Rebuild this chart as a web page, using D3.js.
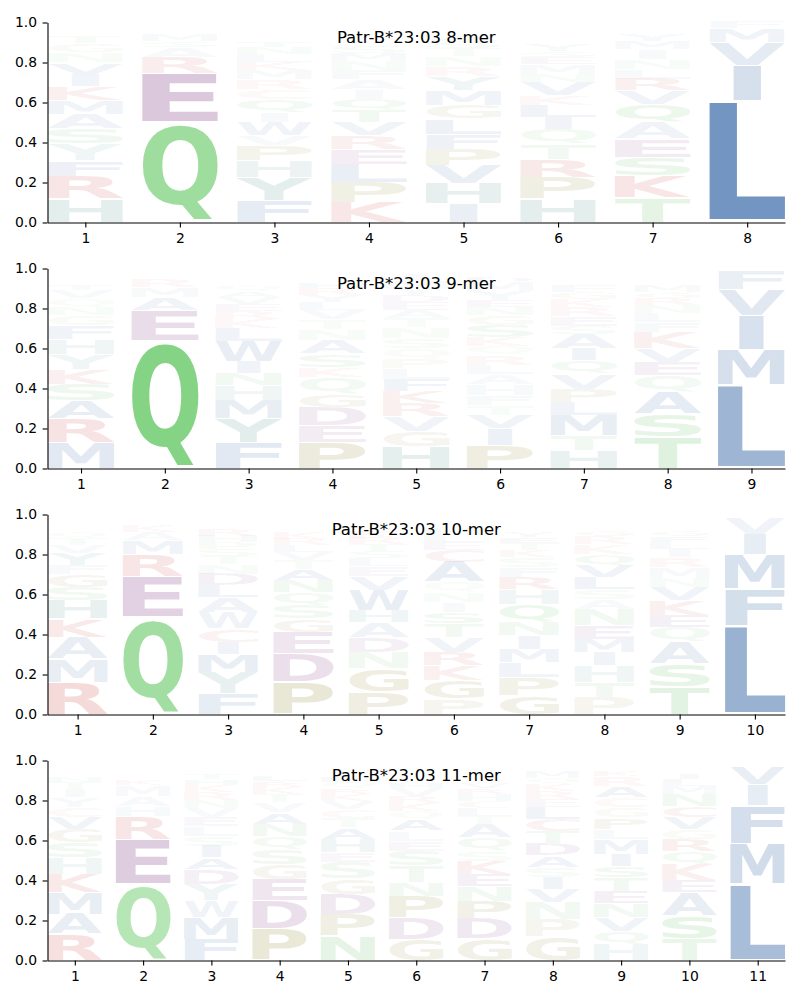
<!DOCTYPE html>
<html><head><meta charset="utf-8">
<script src="https://cdn.jsdelivr.net/npm/d3@7"></script>
<style>body{margin:0;background:#fff}</style>
</head><body>
<svg id="chart" width="800" height="1000"></svg>
<script>
// ---- DATA: each column lists [residue, frequency] from bottom to top ----
const titles = ["Patr-B*23:03 8-mer","Patr-B*23:03 9-mer","Patr-B*23:03 10-mer","Patr-B*23:03 11-mer"];
const yTicks = [0,0.2,0.4,0.6,0.8,1.0];

const mer8 = [
 [["H",.118],["R",.114],["F",.078],["Y",.083],["S",.075],["A",.075],["M",.07],["K",.067],["I",.063],["V",.057],["N",.05],["G",.045],["T",.035],["Q",.025],["W",.02],["P",.015],["E",.01]],
 [["Q",.5],["E",.245],["R",.08],["A",.05],["S",.03],["M",.035],["K",.025],["T",.02],["L",.015]],
 [["F",.11],["Y",.117],["H",.083],["P",.075],["V",.05],["W",.065],["I",.05],["Q",.065],["C",.05],["R",.05],["M",.045],["K",.04],["L",.04],["N",.035],["T",.03],["E",.025],["G",.02],["S",.02],["A",.02],["D",.01]],
 [["K",.1],["P",.1],["L",.093],["E",.075],["R",.067],["V",.065],["T",.06],["Q",.058],["I",.05],["A",.05],["F",.045],["N",.045],["M",.04],["S",.035],["H",.025],["G",.025],["Y",.02],["C",.022],["D",.015],["W",.01]],
 [["I",.093],["H",.1],["V",.092],["P",.083],["F",.075],["L",.075],["G",.067],["M",.075],["Y",.07],["R",.05],["N",.05],["T",.04],["S",.035],["A",.03],["E",.025],["K",.02],["Q",.015],["D",.005]],
 [["H",.118],["P",.109],["R",.091],["T",.075],["Q",.075],["I",.059],["L",.058],["K",.05],["V",.065],["N",.04],["M",.05],["E",.035],["S",.03],["Y",.03],["A",.025],["W",.025],["F",.02],["C",.02],["G",.015],["D",.01]],
 [["T",.127],["K",.108],["S",.092],["E",.091],["A",.084],["Q",.091],["V",.067],["R",.058],["L",.05],["N",.05],["I",.05],["M",.04],["Y",.035],["F",.025],["G",.02],["H",.01],["D",.005],["P",.005]],
 [["L",.61],["I",.175],["V",.115],["M",.07],["F",.03]]
];

const mer9 = [
 [["M",.127],["R",.121],["A",.092],["S",.083],["K",.075],["Y",.075],["H",.075],["F",.067],["G",.05],["N",.04],["Q",.045],["V",.04],["T",.03],["L",.025],["I",.02],["P",.015],["E",.01],["D",.005],["W",.005]],
 [["Q",.64],["E",.15],["A",.065],["M",.05],["R",.04],["K",.02],["S",.015],["T",.01],["L",.01]],
 [["F",.127],["Y",.121],["M",.092],["H",.075],["N",.06],["I",.06],["W",.1],["L",.065],["K",.045],["R",.04],["E",.035],["V",.035],["A",.03],["Q",.03],["S",.025],["T",.02],["P",.015],["G",.01],["D",.01],["C",.005]],
 [["P",.132],["E",.083],["D",.092],["G",.066],["Q",.084],["K",.05],["S",.066],["A",.067],["N",.055],["T",.05],["V",.045],["L",.04],["Y",.035],["R",.035],["H",.03],["I",.025],["F",.02],["M",.015],["W",.01]],
 [["H",.11],["G",.075],["V",.075],["R",.065],["K",.06],["F",.06],["L",.055],["P",.05],["Q",.05],["S",.05],["N",.055],["T",.045],["A",.04],["E",.04],["D",.035],["Y",.035],["M",.035],["I",.03],["W",.025],["C",.01]],
 [["P",.117],["I",.083],["V",.067],["T",.05],["F",.05],["H",.055],["A",.05],["L",.045],["R",.05],["Q",.045],["K",.045],["S",.06],["G",.05],["N",.04],["E",.035],["Y",.045],["M",.045],["D",.028],["W",.025],["C",.015]],
 [["H",.09],["T",.075],["M",.1],["L",.067],["P",.066],["V",.075],["Q",.067],["I",.058],["A",.075],["S",.04],["E",.05],["R",.045],["K",.04],["G",.035],["F",.03],["Y",.025],["N",.025],["D",.02],["W",.01],["C",.005]],
 [["T",.157],["S",.116],["A",.109],["Q",.083],["E",.067],["V",.066],["K",.084],["F",.05],["L",.045],["N",.04],["R",.035],["G",.03],["M",.03],["I",.025],["D",.02],["H",.015],["P",.015],["Y",.01]],
 [["L",.42],["M",.175],["I",.17],["V",.13],["F",.095],["W",.01]]
];

const mer10 = [
 [["R",.162],["M",.116],["A",.109],["K",.091],["H",.092],["S",.067],["G",.066],["F",.045],["Y",.06],["V",.04],["T",.035],["Q",.03],["N",.025],["L",.02],["I",.015],["P",.01],["E",.01],["D",.005]],
 [["Q",.485],["E",.205],["R",.11],["M",.07],["A",.04],["K",.03],["S",.02],["T",.015],["L",.015],["N",.01]],
 [["F",.103],["Y",.109],["M",.091],["I",.059],["C",.066],["W",.084],["A",.075],["L",.058],["D",.058],["N",.05],["T",.04],["S",.035],["P",.035],["H",.03],["R",.035],["K",.025],["V",.02],["E",.015],["G",.01]],
 [["P",.162],["D",.141],["E",.109],["G",.066],["S",.067],["Q",.067],["N",.058],["A",.058],["T",.045],["V",.04],["L",.035],["R",.03],["K",.03],["I",.025],["F",.02],["H",.015],["Y",.015],["M",.01],["W",.005]],
 [["P",.112],["G",.116],["N",.084],["D",.075],["A",.075],["H",.058],["W",.1],["V",.07],["E",.05],["L",.04],["S",.035],["T",.035],["R",.03],["K",.03],["Q",.025],["F",.02],["I",.015],["M",.01],["Y",.01],["C",.005]],
 [["P",.078],["G",.092],["K",.075],["R",.067],["V",.075],["T",.066],["S",.059],["I",.05],["N",.05],["Q",.05],["A",.1],["C",.06],["E",.04],["L",.035],["H",.03],["M",.025],["D",.02],["F",.015],["Y",.01]],
 [["G",.095],["P",.092],["L",.075],["M",.066],["I",.067],["N",.067],["Q",.091],["H",.075],["R",.059],["F",.05],["S",.05],["K",.035],["T",.035],["E",.03],["Y",.03],["V",.025],["A",.02],["D",.02],["W",.01],["C",.005]],
 [["P",.087],["T",.075],["H",.083],["I",.067],["M",.066],["E",.067],["N",.083],["A",.05],["S",.05],["L",.058],["V",.058],["Q",.058],["K",.05],["R",.04],["G",.03],["F",.025],["D",.02],["Y",.02],["C",.01]],
 [["T",.137],["S",.116],["A",.109],["Q",.075],["E",.058],["K",.075],["V",.067],["N",.045],["M",.055],["R",.05],["I",.04],["L",.035],["F",.03],["G",.03],["D",.025],["H",.02],["Y",.015],["P",.01],["W",.005]],
 [["L",.445],["F",.185],["M",.17],["I",.1],["V",.08],["Y",.02]]
];

const mer11 = [
 [["R",.132],["A",.1],["M",.108],["K",.092],["H",.083],["S",.075],["G",.067],["V",.058],["C",.05],["Y",.05],["I",.04],["T",.035],["N",.03],["L",.025],["F",.02],["Q",.015],["P",.01],["E",.01]],
 [["Q",.38],["E",.225],["R",.115],["H",.05],["A",.05],["M",.055],["K",.03],["S",.025],["T",.02],["L",.02],["N",.015],["V",.01],["D",.005]],
 [["F",.107],["M",.108],["W",.083],["Y",.084],["D",.075],["A",.058],["I",.058],["S",.05],["L",.05],["E",.045],["V",.045],["N",.04],["R",.04],["K",.035],["H",.03],["T",.03],["G",.025],["Q",.02],["P",.015]],
 [["P",.157],["D",.141],["E",.109],["G",.075],["S",.075],["Q",.066],["N",.059],["A",.058],["V",.05],["T",.04],["K",.035],["R",.03],["L",.03],["I",.025],["H",.02],["F",.015],["Y",.01],["M",.005]],
 [["N",.123],["P",.109],["D",.1],["G",.075],["S",.083],["E",.05],["H",.067],["A",.058],["T",.045],["C",.045],["V",.04],["K",.035],["R",.03],["Q",.03],["L",.03],["I",.025],["F",.02],["Y",.015],["M",.01],["W",.005]],
 [["G",.107],["D",.108],["P",.108],["N",.067],["T",.083],["S",.075],["E",.05],["L",.05],["A",.058],["Q",.04],["K",.04],["R",.035],["V",.04],["H",.03],["I",.025],["F",.02],["Y",.02],["M",.015],["C",.01],["W",.01]],
 [["G",.108],["D",.1],["P",.09],["N",.075],["E",.06],["K",.065],["S",.05],["Q",.066],["A",.067],["T",.04],["L",.04],["C",.035],["H",.035],["R",.03],["V",.03],["I",.025],["F",.02],["Y",.02],["M",.015],["W",.01]],
 [["G",.117],["P",.088],["N",.085],["V",.067],["I",.06],["S",.05],["A",.058],["D",.06],["T",.06],["C",.06],["L",.06],["E",.04],["R",.04],["K",.035],["Q",.03],["M",.03],["H",.02],["F",.015],["W",.02],["Y",.005]],
 [["H",.078],["Q",.07],["V",.07],["N",.07],["E",.06],["T",.066],["S",.059],["I",.058],["M",.075],["L",.05],["P",.058],["G",.05],["C",.05],["A",.058],["R",.05],["K",.03],["D",.02],["F",.015],["Y",.005]],
 [["T",.107],["S",.116],["A",.117],["E",.058],["K",.084],["Q",.066],["R",.059],["G",.05],["V",.058],["C",.058],["N",.058],["M",.04],["L",.035],["I",.03],["F",.025],["D",.02],["H",.015],["P",.005]],
 [["L",.38],["M",.205],["F",.19],["I",.105],["V",.09],["Y",.02],["W",.01]]
];

const panels = [mer8, mer9, mer10, mer11];

// residue colour classes
const residueColors = {
  A:"#185199",V:"#185199",L:"#185199",I:"#185199",M:"#185199",F:"#185199",W:"#185199",
  K:"#c01818",R:"#c01818",C:"#c04848",
  D:"#6c1e70",E:"#6c1e70",
  S:"#30a830",T:"#30a830",N:"#30a830",Q:"#40bb40",
  G:"#786c00",P:"#786c00",
  H:"#146e64",Y:"#146e64"
};

// ---- LAYOUT ----
const svg = d3.select("#chart");
const plotLeft = 47.5, plotRight = 785;
const panelTop0 = 22.5, panelH = 200, panelGap = 246;
const FONT = "DejaVu Sans";
const vpad = 0.05, colWidth = 0.8;

// glyph ink metrics via canvas
const ctx = document.createElement("canvas").getContext("2d");
const FS = 100;
ctx.font = `bold ${FS}px "${FONT}"`;
const metricCache = {};
function metrics(ch){
  if(!metricCache[ch]){
    const m = ctx.measureText(ch);
    metricCache[ch] = {l:m.actualBoundingBoxLeft, r:m.actualBoundingBoxRight,
                       a:m.actualBoundingBoxAscent, d:m.actualBoundingBoxDescent};
  }
  return metricCache[ch];
}
const Em = metrics("E");
const EinkW = Em.l + Em.r;

panels.forEach((cols, pi) => {
  const top = panelTop0 + pi*panelGap;
  const n = cols.length;
  const x = d3.scaleLinear().domain([0.6, n + 0.4]).range([plotLeft, plotRight]);
  const y = d3.scaleLinear().domain([0, 1]).range([top + panelH, top]);
  const g = svg.append("g");
  const step = x(2) - x(1);
  const boxW = colWidth * step;

  cols.forEach((col, ci) => {
    let cum = 0;
    col.forEach(([ch, v]) => {
      const y1 = y(cum), y0 = y(cum + v);
      cum += v;
      const h = y1 - y0;
      if (h <= 0.05) return;
      const m = metrics(ch);
      const inkH = h * (1 - vpad);
      const inkTop = y0 + h * vpad / 2;
      const sy = inkH / (m.a + m.d);
      const inkW = m.l + m.r;
      const sx = Math.min(boxW / inkW, boxW / EinkW);
      const drawnW = inkW * sx;
      const inkLeft = x(ci + 1) - boxW/2 + (boxW - drawnW)/2;
      const tx = inkLeft + m.l * sx;
      const ty = inkTop + m.a * sy;
      g.append("text")
        .attr("x", 0).attr("y", 0)
        .attr("transform", `translate(${tx},${ty}) scale(${sx},${sy})`)
        .attr("font-family", FONT).attr("font-weight", "bold")
        .attr("font-size", FS)
        .attr("fill", residueColors[ch])
        .attr("fill-opacity", Math.min(1, v))
        .text(ch);
    });
  });

  // axes
  const yAxis = d3.axisLeft(y).tickValues(yTicks).tickFormat(d3.format(".1f"))
    .tickSize(4.9).tickPadding(5.5).tickSizeOuter(0);
  const ya = svg.append("g").attr("transform", `translate(${plotLeft},0)`).call(yAxis);
  const xAxis = d3.axisBottom(x).tickValues(d3.range(1, n + 1)).tickFormat(d3.format("d"))
    .tickSize(4.9).tickPadding(5.7).tickSizeOuter(0);
  const xa = svg.append("g").attr("transform", `translate(0,${top + panelH})`).call(xAxis);
  [ya, xa].forEach(a => {
    a.selectAll("text").attr("font-family", FONT).attr("font-size", 13.9).attr("fill", "#000");
    a.selectAll("line").attr("stroke", "#000").attr("stroke-width", 1.1);
    a.select(".domain").attr("stroke", "#000").attr("stroke-width", 1.1);
  });

  // title inside the axes
  svg.append("text")
    .attr("x", (plotLeft + plotRight)/2).attr("y", top + 20)
    .attr("text-anchor", "middle")
    .attr("font-family", FONT).attr("font-size", 16.5).attr("fill", "#000")
    .text(titles[pi]);
});
</script>
</body></html>
